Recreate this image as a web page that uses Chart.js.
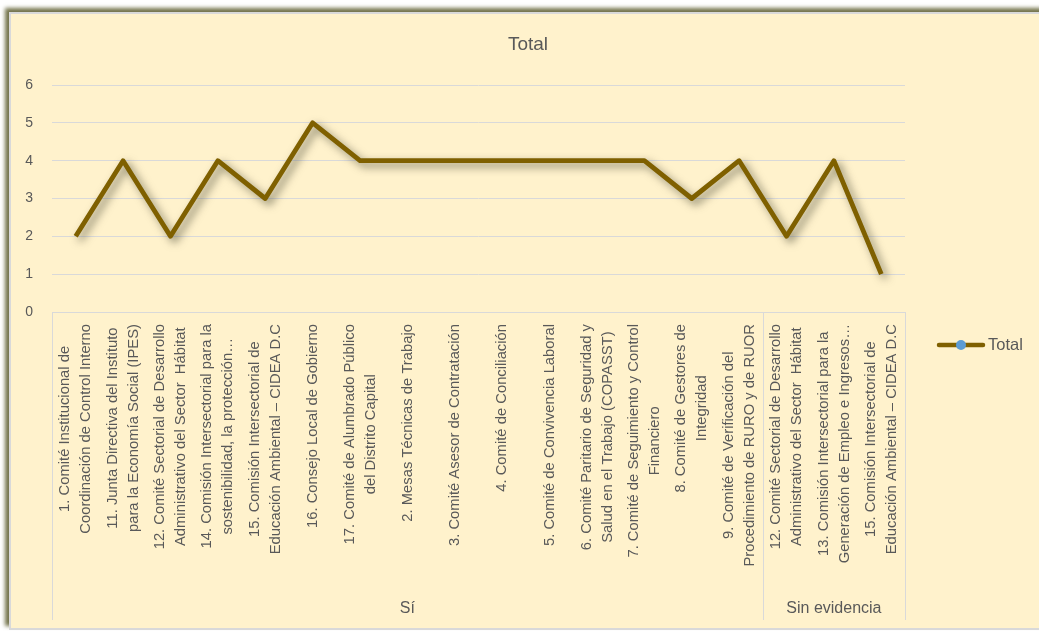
<!DOCTYPE html>
<html>
<head>
<meta charset="utf-8">
<title>Total</title>
<script src="https://cdn.jsdelivr.net/npm/chart.js@4.4.0/dist/chart.umd.min.js"></script>
<style>
  html, body { margin: 0; padding: 0; background: #ffffff; overflow: hidden; }
  #marco {
    position: absolute; left: 9px; top: 12px; width: 1040px; height: 614px;
    background: #FFF2CC; border: 2px solid #D9D9D9;
    box-shadow: -4px -4px 4px rgba(115, 115, 75, 1);
  }
  #grafico { position: absolute; left: 0; top: 0; }
</style>
</head>
<body>
<div id="marco"></div>
<canvas id="grafico" width="1039" height="631"></canvas>
<script>
// datos
var categorias = [
  ['1. Comité Institucional de', 'Coordinación de Control Interno'],
  ['11. Junta Directiva del Instituto', 'para la Economía Social (IPES)'],
  ['12. Comité Sectorial de Desarrollo', 'Administrativo del Sector  Hábitat'],
  ['14. Comisión Intersectorial para la', 'sostenibilidad, la protección…'],
  ['15. Comisión Intersectorial de', 'Educación Ambiental – CIDEA D.C'],
  ['16. Consejo Local de Gobierno'],
  ['17. Comité de Alumbrado Público', 'del Distrito Capital'],
  ['2. Mesas Técnicas de Trabajo'],
  ['3. Comité Asesor de Contratación'],
  ['4. Comité de Conciliación'],
  ['5. Comité de Convivencia Laboral'],
  ['6. Comité Paritario de Seguridad y', 'Salud en el Trabajo (COPASST)'],
  ['7. Comité de Seguimiento y Control', 'Financiero'],
  ['8. Comité de Gestores de', 'Integridad'],
  ['9. Comité de Verificación del', 'Procedimiento de RURO y de RUOR'],
  ['12. Comité Sectorial de Desarrollo', 'Administrativo del Sector  Hábitat'],
  ['13. Comisión Intersectorial para la', 'Generación de Empleo e Ingresos…'],
  ['15. Comisión Intersectorial de', 'Educación Ambiental – CIDEA D.C']
];
var valores = [2, 4, 2, 4, 3, 5, 4, 4, 4, 4, 4, 4, 4, 3, 4, 2, 4, 1];
var grupos = ['Sí', 'Sin evidencia'];
var tamanoGrupos = [15, 3];
var serie = 'Total';

var FUENTE = '"Liberation Sans", Arial, sans-serif';
var GRIS_TEXTO = '#595959';
var GRIS_LINEA = '#D9D9D9';
var COLOR_LINEA = '#7F6000';
var COLOR_MARCA = '#5B9BD5';

// sombra bajo la línea
var sombraLinea = {
  id: 'sombraLinea',
  beforeDatasetsDraw: function(chart) {
    var ctx = chart.ctx;
    ctx.save();
    ctx.shadowColor = 'rgba(70, 70, 50, 0.65)';
    ctx.shadowBlur = 8;
    ctx.shadowOffsetX = 4;
    ctx.shadowOffsetY = 4;
  },
  afterDatasetsDraw: function(chart) {
    chart.ctx.restore();
  }
};

// título, etiquetas de categoría en dos niveles y leyenda
var textos = {
  id: 'textos',
  afterDraw: function(chart) {
    var ctx = chart.ctx;
    var x = chart.scales.x;
    var area = chart.chartArea;
    var paso = x.getPixelForTick(1) - x.getPixelForTick(0);

    ctx.save();
    // título
    ctx.fillStyle = GRIS_TEXTO;
    ctx.font = '19px ' + FUENTE;
    ctx.textAlign = 'center';
    ctx.textBaseline = 'middle';
    ctx.fillText(serie, 528, 45);

    // etiquetas giradas
    ctx.font = '14.8px ' + FUENTE;
    var alto = 21;
    categorias.forEach(function(lineas, i) {
      var cx = x.getPixelForTick(i);
      var largo = 0;
      lineas.forEach(function(l) { largo = Math.max(largo, ctx.measureText(l).width); });
      var cy = area.bottom + 12 + largo / 2;
      ctx.save();
      ctx.translate(cx, cy);
      ctx.rotate(-Math.PI / 2);
      lineas.forEach(function(l, j) {
        ctx.fillText(l, 0, (j - (lineas.length - 1) / 2) * alto);
      });
      ctx.restore();
    });

    // separadores y nombres de grupo
    ctx.strokeStyle = GRIS_LINEA;
    ctx.lineWidth = 1;
    ctx.font = '16px ' + FUENTE;
    var inicio = 0;
    var bordes = [area.left];
    grupos.forEach(function(g, k) {
      var fin = inicio + tamanoGrupos[k];
      var x0 = x.getPixelForTick(inicio) - paso / 2;
      var x1 = x.getPixelForTick(fin - 1) + paso / 2;
      bordes.push(x1);
      ctx.fillText(g, (x0 + x1) / 2, 609);
      inicio = fin;
    });
    bordes.forEach(function(b) {
      ctx.beginPath();
      ctx.moveTo(Math.round(b) + 0.5, area.bottom);
      ctx.lineTo(Math.round(b) + 0.5, 620);
      ctx.stroke();
    });

    // leyenda
    var ly = 345;
    ctx.strokeStyle = COLOR_LINEA;
    ctx.lineWidth = 4.5;
    ctx.lineCap = 'round';
    ctx.beginPath();
    ctx.moveTo(939, ly);
    ctx.lineTo(983, ly);
    ctx.stroke();
    ctx.fillStyle = COLOR_MARCA;
    ctx.beginPath();
    ctx.arc(961, ly, 5, 0, Math.PI * 2);
    ctx.fill();
    ctx.fillStyle = GRIS_TEXTO;
    ctx.font = '16.5px ' + FUENTE;
    ctx.textAlign = 'left';
    ctx.fillText(serie, 988, ly);
    ctx.restore();
  }
};

var config = {
  type: 'line',
  data: {
    labels: categorias,
    datasets: [{
      label: serie,
      data: valores,
      borderColor: COLOR_LINEA,
      backgroundColor: COLOR_MARCA,
      borderWidth: 4.8,
      borderJoinStyle: 'round',
      pointRadius: 0,
      tension: 0,
      fill: false
    }]
  },
  options: {
    responsive: false,
    animation: false,
    layout: { padding: { left: 0, right: 134, top: 85, bottom: 319 } },
    plugins: {
      legend: { display: false },
      title: { display: false },
      tooltip: { enabled: false }
    },
    scales: {
      x: {
        offset: true,
        grid: { display: false },
        border: { display: true, color: GRIS_LINEA, width: 1 },
        ticks: { display: false },
        afterFit: function(s) { s.height = 0; }
      },
      y: {
        min: 0,
        max: 6,
        ticks: {
          stepSize: 1,
          padding: 19,
          color: GRIS_TEXTO,
          font: { family: FUENTE, size: 14 }
        },
        grid: { color: GRIS_LINEA, drawTicks: false, tickLength: 0 },
        border: { display: false },
        afterFit: function(s) { s.width = 52; }
      }
    }
  },
  plugins: [sombraLinea, textos]
};

window.onload = function() {
  var ctx = document.getElementById('grafico').getContext('2d');
  window.miGrafico = new Chart(ctx, config);
};
</script>
</body>
</html>
